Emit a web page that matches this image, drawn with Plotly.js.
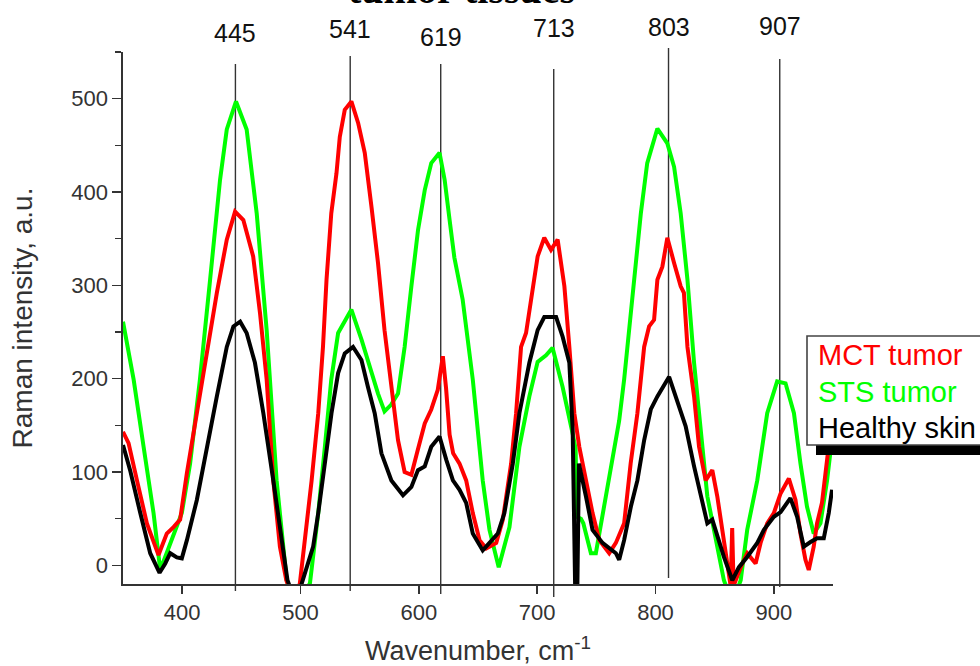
<!DOCTYPE html>
<html>
<head>
<meta charset="utf-8">
<script src="https://cdn.plot.ly/plotly-3.0.1.min.js"></script>
<style>html,body{margin:0;padding:0;background:#fff;}#chart{width:980px;height:666px;}</style>
</head>
<body>
<div id="chart"></div>
<script>
// ---- data ----
const seriesNames = ['MCT tumor', 'STS tumor', 'Healthy skin'];

const mctX = [350,354.7,361.8,370.2,380,387,392.7,398.3,404,412.4,420.8,429.3,437.7,444.7,451.7,460,465.8,471.4,477,482.6,488,495,499.5,503.7,509.4,515,519,522,526,530.4,533.2,537.4,543,548.7,554.3,560,565.5,571,576.8,582.4,588,593.7,599.2,605,610.5,616,620.3,623,626,629,634.4,640,645.6,651.3,657,665.4,671,678,682.2,686.4,690.6,696.2,700.4,706,711.7,717.3,723,727.2,731.4,735.6,741.2,746.8,752.5,760.9,766.5,773.5,779,784.7,790.4,794.6,798.8,801.6,805.8,810,815.7,821.3,824,827,832.6,836.8,842.4,848,852.2,856.4,860.6,863.5,864.8,866,872,877.5,884.6,888.8,894.4,900,905.7,912.7,918.3,922.5,926.7,929.5,933.7,936.5,940.7,945,948];
const mctY = [143,131,91,45,11,34,41,49,99,163,227,292,349,379,370,331,270,199,91,20,-16,-40,-19,27,91,163,234,306,377,420,459,488,497,474,442,384,324,252,188,134,100,97,124,152,167,188,224,190,140,120,109,91,56,27,18,24,49,109,163,234,249,299,331,351,338,349,299,234,163,127,91,56,27,13,24,45,109,163,234,256,263,306,320,351,324,299,292,234,181,127,91,102,74,38,2,-22,40,-22,-2,13,2,24,45,56,77,93,70,34,6,-5,20,45,67,109,145];

const stsX = [350,359,367.4,375.8,381.5,389.9,399.7,406.7,415,423.6,432,437.7,445.5,454.5,463,471.4,479.8,488.3,497,508,515,520.6,526,531.8,536,543,551.5,560,565.5,571,576.5,582.4,588,593.7,599.3,605,610.5,617.5,621.8,626,630,637,645.6,654,659.7,667.5,676.6,685,693.4,700.4,707.5,713,721.5,730,732.5,733.5,737,739,745.4,749.6,758,765,769.3,773.5,782,787.6,793,801.6,810,815.7,821.3,827,832.6,838.2,843.8,852.2,857.8,865,872,877.5,886,894.4,902.8,909.9,917,922.5,928,933.7,939.4,945,949];
const stsY = [261,199,127,56,-5,24,56,109,199,306,413,467,497,467,377,252,91,-16,-45,-19,56,127,199,249,258,274,242,206,184,165,172,184,234,299,359,402,431,442,413,370,330,285,199,91,38,-2,41,127,181,218,225,233,191,141,125,52,50,45,13,13,74,120,155,199,306,377,431,468,452,427,377,306,217,145,74,20,-16,-40,-16,38,91,163,197,195,163,109,63,34,45,91,134];

const skinX = [350,356,364.6,373,380.9,385.7,389.9,395.5,399.7,404,412.4,420.8,429.3,437.7,443.3,449,454.5,461.5,468.6,477,485.4,489,496,501,506.5,510.7,515,520.6,526.2,531.8,537.4,544.4,551.5,557,562.7,568.4,576.8,586.6,593.7,599.3,605,610.5,617.5,623.2,628.8,634.4,640,645.6,654,659.7,666.7,672.3,679.4,685,693.4,700.4,706,716,721.5,727.2,730,732.3,733.8,735.3,738,741.2,746.8,755.2,766.5,769.3,773.5,779.2,784.7,790.4,796,801.6,811.5,818.5,825.5,832.6,838.2,843.8,848,852.2,857.8,864.9,870.5,877.5,886,891.6,900,905.7,914,919.7,925.3,931,936.5,942.2,946.4,949.2];
const skinY = [129,102,56,13,-8,2,13,8.5,7.5,27,70,127,181,234,256,261,249,217,163,91,20,-16,-40,-19,6,20,56,109,163,206,227,234,220,191,163,120,91,75,84,102,106,127,138,113,91,81,67,34,16,24,34,56,109,163,217,252,266,266,245,217,145,-40,-40,109,95,74,38,24,13,6,27,63,91,134,167,181,202,177,149,106,74,45,49,31,9,-16,-2,9,24,38,52,57,72,52,20,25,29,29,56,81];

const peakPos = [445, 542, 618.5, 714, 811, 905];
const peakLabels = ['445', '541', '619', '713', '803', '907'];
const peakTopPx = [64, 56, 64, 69, 48, 59];
const peakBottomPx = [591, 591, 594, 597, 578, 587];
const peakLabelPx = [33, 29, 37, 28, 27, 26];

const yTicks = [0, 100, 200, 300, 400, 500];
const xTicks = [400, 500, 600, 700, 800, 900];

// ---- layout helpers ----
const W = 980, H = 666;
const M = {l: 123, r: 147, t: 52, b: 82};
const plotTop = M.t, plotBottom = H - M.b, plotLeft = M.l, plotRight = W - M.r;
const py2paper = py => (plotBottom - py) / (plotBottom - plotTop);
const px2paper = px => (px - plotLeft) / (plotRight - plotLeft);

const colors = ['#ff0000', '#00ff00', '#000000'];
const font = 'Liberation Sans, Arial, sans-serif';

const traces = [
  {x: mctX, y: mctY, name: seriesNames[0], mode: 'lines', line: {color: colors[0], width: 4}},
  {x: stsX, y: stsY, name: seriesNames[1], mode: 'lines', line: {color: colors[1], width: 4}},
  {x: skinX, y: skinY, name: seriesNames[2], mode: 'lines', line: {color: colors[2], width: 4}}
];
const ordered = [traces[1], traces[0], traces[2]];

const shapes = [];
const annotations = [];
peakPos.forEach((p, i) => {
  shapes.push({type: 'line', xref: 'x', yref: 'paper', x0: p, x1: p,
    y0: py2paper(peakBottomPx[i]), y1: py2paper(peakTopPx[i]),
    line: {color: '#333', width: 1.4}, layer: 'below'});
  annotations.push({xref: 'x', yref: 'paper', x: p, y: py2paper(peakLabelPx[i]),
    text: peakLabels[i], showarrow: false, xanchor: 'center', yanchor: 'middle',
    font: {family: font, size: 25, color: '#111'}});
});

// cut-off title
annotations.push({xref: 'paper', yref: 'paper', x: px2paper(461), y: py2paper(14),
  text: '<b>tumor tissues</b>', showarrow: false, xanchor: 'center', yanchor: 'bottom',
  font: {family: 'Liberation Serif, Times New Roman, serif', size: 40, color: '#000'}});

// legend box (drawn manually, text only)
shapes.push({type: 'rect', xref: 'paper', yref: 'paper',
  x0: px2paper(816), x1: px2paper(995), y0: py2paper(455), y1: py2paper(444),
  fillcolor: '#000', line: {width: 0}, layer: 'above'});
shapes.push({type: 'rect', xref: 'paper', yref: 'paper',
  x0: px2paper(807), x1: px2paper(995), y0: py2paper(445), y1: py2paper(336),
  fillcolor: '#fff', line: {color: '#444', width: 1.6}, layer: 'above'});
const legRows = [355, 392, 428];
seriesNames.forEach((n, i) => {
  annotations.push({xref: 'paper', yref: 'paper', x: px2paper(816), y: py2paper(legRows[i]),
    text: n, showarrow: false, xanchor: 'left', yanchor: 'middle',
    font: {family: font, size: 29, color: colors[i]}});
});

const layout = {
  width: W, height: H,
  margin: M,
  paper_bgcolor: '#fff', plot_bgcolor: '#fff',
  showlegend: false,
  xaxis: {
    range: [350, 950], tickvals: xTicks, ticktext: xTicks.map(String),
    showgrid: false, zeroline: false, showline: true, linecolor: '#333', linewidth: 1.6,
    ticks: 'outside', ticklen: 8, tickwidth: 1.4, tickcolor: '#333',
    tickfont: {family: font, size: 22, color: '#333'},
    title: {text: 'Wavenumber, cm<sup>-1</sup>', font: {family: font, size: 27, color: '#333'}, standoff: 24}
  },
  yaxis: {
    range: [-20, 550], tickvals: yTicks, ticktext: yTicks.map(String),
    showgrid: false, zeroline: false, showline: true, linecolor: '#333', linewidth: 1.6,
    ticks: 'outside', ticklen: 9, tickwidth: 1.4, tickcolor: '#333',
    minor: {dtick: 50, ticks: 'outside', ticklen: 6, tickwidth: 1.4, tickcolor: '#333', showgrid: false},
    tickfont: {family: font, size: 22, color: '#333'},
    title: {text: 'Raman intensity, a.u.', font: {family: font, size: 28, color: '#333'}, standoff: 30}
  },
  shapes: shapes,
  annotations: annotations
};

Plotly.newPlot('chart', ordered, layout, {displayModeBar: false, staticPlot: true});
</script>
</body>
</html>
